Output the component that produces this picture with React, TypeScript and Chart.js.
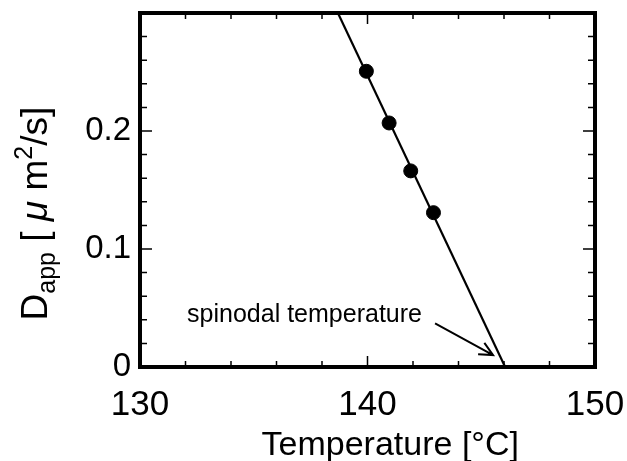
import React, { useEffect, useRef } from "react";
import { Chart, registerables } from "chart.js";

Chart.register(...registerables);

// Measured data points
const temperatures = [139.95, 140.95, 141.9, 142.9];
const dapp = [0.2506, 0.2068, 0.1662, 0.1308];

// Fitted straight line (end points)
const fitLineX = [138.7, 146.05];
const fitLineY = [0.3, 0];

// Axis ranges and tick labels
const xMin = 130;
const xMax = 150;
const xStep = 2;
const xMajorTicks = [130, 140, 150];
const yMin = 0;
const yMax = 0.3;
const yStep = 0.02;
const yMajorTicks = [0, 0.1, 0.2];
const yTickLabels = ["0", "0.1", "0.2"];

// Annotation
const annotationText = "spinodal temperature";
const annotationPos = [132.07, 0.038];
const arrowFrom = [142.97, 0.037];
const arrowTo = [145.52, 0.0101];

const FONT = "'Liberation Sans', Arial, Helvetica, sans-serif";

const near = (a: number, b: number) => Math.abs(a - b) < 1e-6;

const framePlugin = {
  id: "framePlugin",
  afterDatasetsDraw(chart: any) {
    const ctx = chart.ctx;
    const { left, right, top, bottom } = chart.chartArea;
    const xs = chart.scales.x;
    const ys = chart.scales.y;
    ctx.save();
    ctx.strokeStyle = "#000";
    ctx.fillStyle = "#000";

    // inward ticks
    ctx.lineWidth = 1.5;
    for (const t of xs.ticks) {
      const px = xs.getPixelForValue(t.value);
      const major = xMajorTicks.some((m) => near(m, t.value));
      const len = major ? 11 : 6;
      ctx.beginPath();
      ctx.moveTo(px, bottom);
      ctx.lineTo(px, bottom - len);
      ctx.moveTo(px, top);
      ctx.lineTo(px, top + len);
      ctx.stroke();
    }
    for (const t of ys.ticks) {
      const py = ys.getPixelForValue(t.value);
      const major = near(Math.round(t.value * 10) / 10, t.value);
      const len = major ? 12 : 7;
      ctx.beginPath();
      ctx.moveTo(left, py);
      ctx.lineTo(left + len, py);
      ctx.moveTo(right, py);
      ctx.lineTo(right - len, py);
      ctx.stroke();
    }

    // frame
    ctx.lineWidth = 4;
    ctx.strokeRect(left, top, right - left, bottom - top);

    // annotation text
    ctx.font = `25px ${FONT}`;
    ctx.textAlign = "left";
    ctx.textBaseline = "alphabetic";
    ctx.fillText(
      annotationText,
      xs.getPixelForValue(annotationPos[0]),
      ys.getPixelForValue(annotationPos[1])
    );

    // arrow
    const ax0 = xs.getPixelForValue(arrowFrom[0]);
    const ay0 = ys.getPixelForValue(arrowFrom[1]);
    const ax1 = xs.getPixelForValue(arrowTo[0]);
    const ay1 = ys.getPixelForValue(arrowTo[1]);
    ctx.lineWidth = 2;
    ctx.beginPath();
    ctx.moveTo(ax0, ay0);
    ctx.lineTo(ax1, ay1);
    const ang = Math.atan2(ay1 - ay0, ax1 - ax0);
    const hl = 15;
    const spread = 0.45;
    ctx.moveTo(ax1 - hl * Math.cos(ang - spread), ay1 - hl * Math.sin(ang - spread));
    ctx.lineTo(ax1, ay1);
    ctx.lineTo(ax1 - hl * Math.cos(ang + spread), ay1 - hl * Math.sin(ang + spread));
    ctx.stroke();

    // x axis title
    ctx.font = `34px ${FONT}`;
    ctx.textAlign = "center";
    ctx.textBaseline = "alphabetic";
    ctx.fillText("Temperature [\u00B0C]", xs.getPixelForValue(141), chart.height - 6);

    // y axis title (rotated, with subscript and superscript)
    const parts: { t: string; size: number; dy: number; italic?: boolean }[] = [
      { t: "D", size: 37, dy: 0 },
      { t: "app", size: 25, dy: 8 },
      { t: " [ ", size: 37, dy: 0 },
      { t: "\u03BC", size: 37, dy: 0, italic: true },
      { t: " m", size: 37, dy: 0 },
      { t: "2", size: 25, dy: -15 },
      { t: "/s]", size: 37, dy: 0 },
    ];
    let total = 0;
    for (const p of parts) {
      ctx.font = `${p.italic ? "italic " : ""}${p.size}px ${FONT}`;
      total += ctx.measureText(p.t).width;
    }
    ctx.translate(47, ys.getPixelForValue(0.13));
    ctx.rotate(-Math.PI / 2);
    let cx = -total / 2;
    ctx.textAlign = "left";
    for (const p of parts) {
      ctx.font = `${p.italic ? "italic " : ""}${p.size}px ${FONT}`;
      ctx.fillText(p.t, cx, p.dy);
      cx += ctx.measureText(p.t).width;
    }
    ctx.restore();
  },
};

export default function App() {
  const ref = useRef<HTMLCanvasElement | null>(null);
  useEffect(() => {
    document.body.style.margin = "0";
    const canvas = ref.current;
    if (!canvas) return;
    const chart = new Chart(canvas, {
      type: "scatter",
      data: {
        datasets: [
          {
            label: "fit",
            data: fitLineX.map((x, i) => ({ x, y: fitLineY[i] })),
            showLine: true,
            borderColor: "#000",
            borderWidth: 2.2,
            pointRadius: 0,
            fill: false,
          },
          {
            label: "Dapp",
            data: temperatures.map((x, i) => ({ x, y: dapp[i] })),
            showLine: false,
            backgroundColor: "#000",
            borderColor: "#000",
            pointRadius: 7,
            pointHoverRadius: 7,
          },
        ],
      },
      options: {
        responsive: false,
        animation: false,
        events: [],
        layout: { padding: { top: 13, right: 32, left: 0, bottom: 0 } },
        plugins: {
          legend: { display: false },
          tooltip: { enabled: false },
        },
        scales: {
          x: {
            type: "linear",
            min: xMin,
            max: xMax,
            grid: { display: false, drawTicks: false },
            border: { display: false },
            ticks: {
              stepSize: xStep,
              padding: 17,
              color: "#000",
              font: { size: 35, family: FONT },
              maxRotation: 0,
              autoSkip: false,
              callback: (v: any) => (xMajorTicks.some((m) => near(m, Number(v))) ? String(v) : ""),
            },
            afterFit: (s: any) => {
              s.height = 94;
              s.paddingLeft = 0;
              s.paddingRight = 0;
              s.paddingTop = 0;
              s.paddingBottom = 0;
            },
          },
          y: {
            type: "linear",
            min: yMin,
            max: yMax,
            grid: { display: false, drawTicks: false },
            border: { display: false },
            ticks: {
              stepSize: yStep,
              padding: 9,
              color: "#000",
              font: { size: 33, family: FONT },
              autoSkip: false,
              callback: (v: any) => {
                const i = yMajorTicks.findIndex((m) => near(m, Number(v)));
                return i >= 0 ? yTickLabels[i] : "";
              },
            },
            afterFit: (s: any) => {
              s.width = 140;
              s.paddingLeft = 0;
              s.paddingRight = 0;
              s.paddingTop = 0;
              s.paddingBottom = 0;
            },
          },
        },
      },
      plugins: [framePlugin],
    });
    return () => chart.destroy();
  }, []);
  return <canvas ref={ref} width={627} height={461} />;
}
